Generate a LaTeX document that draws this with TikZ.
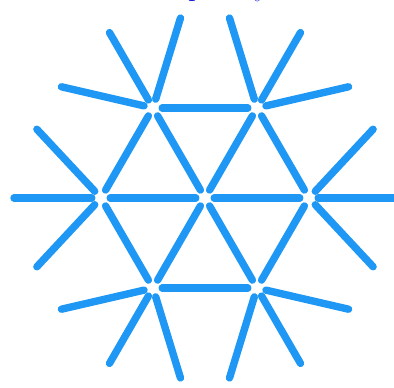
\documentclass[tikz,border=0pt]{standalone}
\usepackage{xcolor}
\usepackage{tikz}
\usetikzlibrary{positioning}
\definecolor{FlakeBlue}{HTML}{1E98F4}
\definecolor{TitleBlue}{HTML}{1414DC}

\begin{document}
\begin{tikzpicture}[x=1pt,y=1pt,
          vtx/.style={circle,minimum size=18pt,inner sep=0pt},
          ln/.style={draw=FlakeBlue,line width=7.4pt,line cap=round}]
        \useasboundingbox (-205,-190) rectangle (189,198);
        % title, cut off by the top edge
        \node[anchor=base west, inner sep=0pt, text=TitleBlue,
          font=\fontsize{31}{31}\selectfont] (title) at (-17,202.5) {poetry};
        % lattice vertices
        \node[vtx] (c)  at (0,0) {};
        \node[vtx] (r)  at (0:104) {};
        \node[vtx] (ur) at (60:104) {};
        \node[vtx] (ul) at (120:104) {};
        \node[vtx] (l)  at (180:104) {};
        \node[vtx] (dl) at (240:104) {};
        \node[vtx] (dr) at (300:104) {};
        % free ends of the outer strokes
        \coordinate (r1)  at ([shift={(0:87)}]r);
        \coordinate (r2)  at ([shift={(47:94)}]r);
        \coordinate (r3)  at ([shift={(-47:94)}]r);
        \coordinate (ur1) at ([shift={(60:87)}]ur);
        \coordinate (ur2) at ([shift={(107:94)}]ur);
        \coordinate (ur3) at ([shift={(13:94)}]ur);
        \coordinate (ul1) at ([shift={(120:87)}]ul);
        \coordinate (ul2) at ([shift={(167:94)}]ul);
        \coordinate (ul3) at ([shift={(73:94)}]ul);
        \coordinate (l1)  at ([shift={(180:87)}]l);
        \coordinate (l2)  at ([shift={(227:94)}]l);
        \coordinate (l3)  at ([shift={(133:94)}]l);
        \coordinate (dl1) at ([shift={(240:87)}]dl);
        \coordinate (dl2) at ([shift={(287:94)}]dl);
        \coordinate (dl3) at ([shift={(193:94)}]dl);
        \coordinate (dr1) at ([shift={(300:87)}]dr);
        \coordinate (dr2) at ([shift={(347:94)}]dr);
        \coordinate (dr3) at ([shift={(253:94)}]dr);
        % spokes and hexagon
        \draw[ln](c)--(r); \draw[ln](c)--(ur); \draw[ln](c)--(ul);
        \draw[ln](c)--(l); \draw[ln](c)--(dl); \draw[ln](c)--(dr);
        \draw[ln](r)--(ur); \draw[ln](ur)--(ul); \draw[ln](ul)--(l);
        \draw[ln](l)--(dl); \draw[ln](dl)--(dr); \draw[ln](dr)--(r);
        % outer strokes
        \draw[ln](r)--(r1);   \draw[ln](r)--(r2);   \draw[ln](r)--(r3);
        \draw[ln](ur)--(ur1); \draw[ln](ur)--(ur2); \draw[ln](ur)--(ur3);
        \draw[ln](ul)--(ul1); \draw[ln](ul)--(ul2); \draw[ln](ul)--(ul3);
        \draw[ln](l)--(l1);   \draw[ln](l)--(l2);   \draw[ln](l)--(l3);
        \draw[ln](dl)--(dl1); \draw[ln](dl)--(dl2); \draw[ln](dl)--(dl3);
        \draw[ln](dr)--(dr1); \draw[ln](dr)--(dr2); \draw[ln](dr)--(dr3);
      \end{tikzpicture}
\end{document}
